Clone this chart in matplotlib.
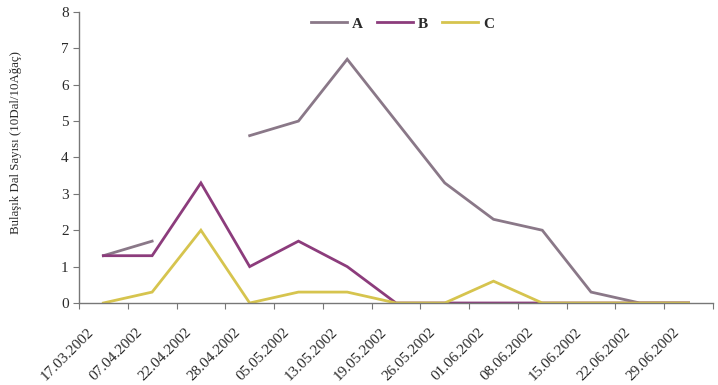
import matplotlib
matplotlib.use("Agg")
import matplotlib.pyplot as plt
import matplotlib.transforms as mtransforms
import numpy as np

categories = ["17.03.2002", "07.04.2002", "22.04.2002", "28.04.2002", "05.05.2002",
              "13.05.2002", "19.05.2002", "26.05.2002", "01.06.2002", "08.06.2002",
              "15.06.2002", "22.06.2002", "29.06.2002"]
series_a = [1.3, 1.7, np.nan, 4.6, 5.0, 6.7, 5.0, 3.3, 2.3, 2.0, 0.3, 0.0, 0.0]
series_b = [1.3, 1.3, 3.3, 1.0, 1.7, 1.0, 0.0, 0.0, 0.0, 0.0, 0.0, 0.0, 0.0]
series_c = [0.0, 0.3, 2.0, 0.0, 0.3, 0.3, 0.0, 0.0, 0.6, 0.0, 0.0, 0.0, 0.0]
series_names = ["A", "B", "C"]
y_label = "Bulaşık Dal Sayısı (10Dal/10Ağaç)"

plt.rcParams['font.family'] = ['Liberation Serif', 'DejaVu Serif']

fig = plt.figure(figsize=(7.18, 3.85), dpi=100)
ax = fig.add_axes([0.110, 0.213, 0.883, 0.756])

x = np.arange(len(categories)) + 0.5
colors = ["#8a7888", "#8c3c7c", "#d6c44e"]
for vals, name, col in zip([series_a, series_b, series_c], series_names, colors):
    ax.plot(x, vals, color=col, lw=2.0, label=name, solid_joinstyle='miter')

ax.set_xlim(0, len(categories))
ax.set_ylim(0, 8)
ax.set_yticks(range(0, 9))
ax.set_xticks(np.arange(len(categories) + 1))
ax.set_xticklabels([])
ax.set_xticks(x, minor=True)
ax.set_xticklabels(categories, minor=True, rotation=45, ha='right',
                   rotation_mode='anchor', fontsize=11, color='#2a2a2a')
ax.tick_params(axis='x', which='minor', length=0, pad=16)
ax.tick_params(axis='x', which='major', length=4, color='#777777', direction='out')
ax.tick_params(axis='y', length=4, color='#777777', labelsize=11, labelcolor='#2a2a2a')

offset = mtransforms.ScaledTranslation(-16 / 100, 0, fig.dpi_scale_trans)
for lab in ax.get_xticklabels(minor=True):
    lab.set_transform(lab.get_transform() + offset)

for s in ['top', 'right']:
    ax.spines[s].set_visible(False)
for s in ['left', 'bottom']:
    ax.spines[s].set_color('#777777')
    ax.spines[s].set_linewidth(1.0)

ax.set_ylabel(y_label, fontsize=9.3, color='#2a2a2a')
ax.yaxis.set_label_coords(-0.09, 0.553)

leg = ax.legend(loc='upper center', bbox_to_anchor=(0.51, 1.03), ncol=3, frameon=False,
                handlelength=2.4, handletextpad=0.3, columnspacing=0.9,
                prop={'size': 11, 'weight': 'bold'})
for t in leg.get_texts():
    t.set_color('#2a2a2a')

fig.savefig("out.png", dpi=100)
